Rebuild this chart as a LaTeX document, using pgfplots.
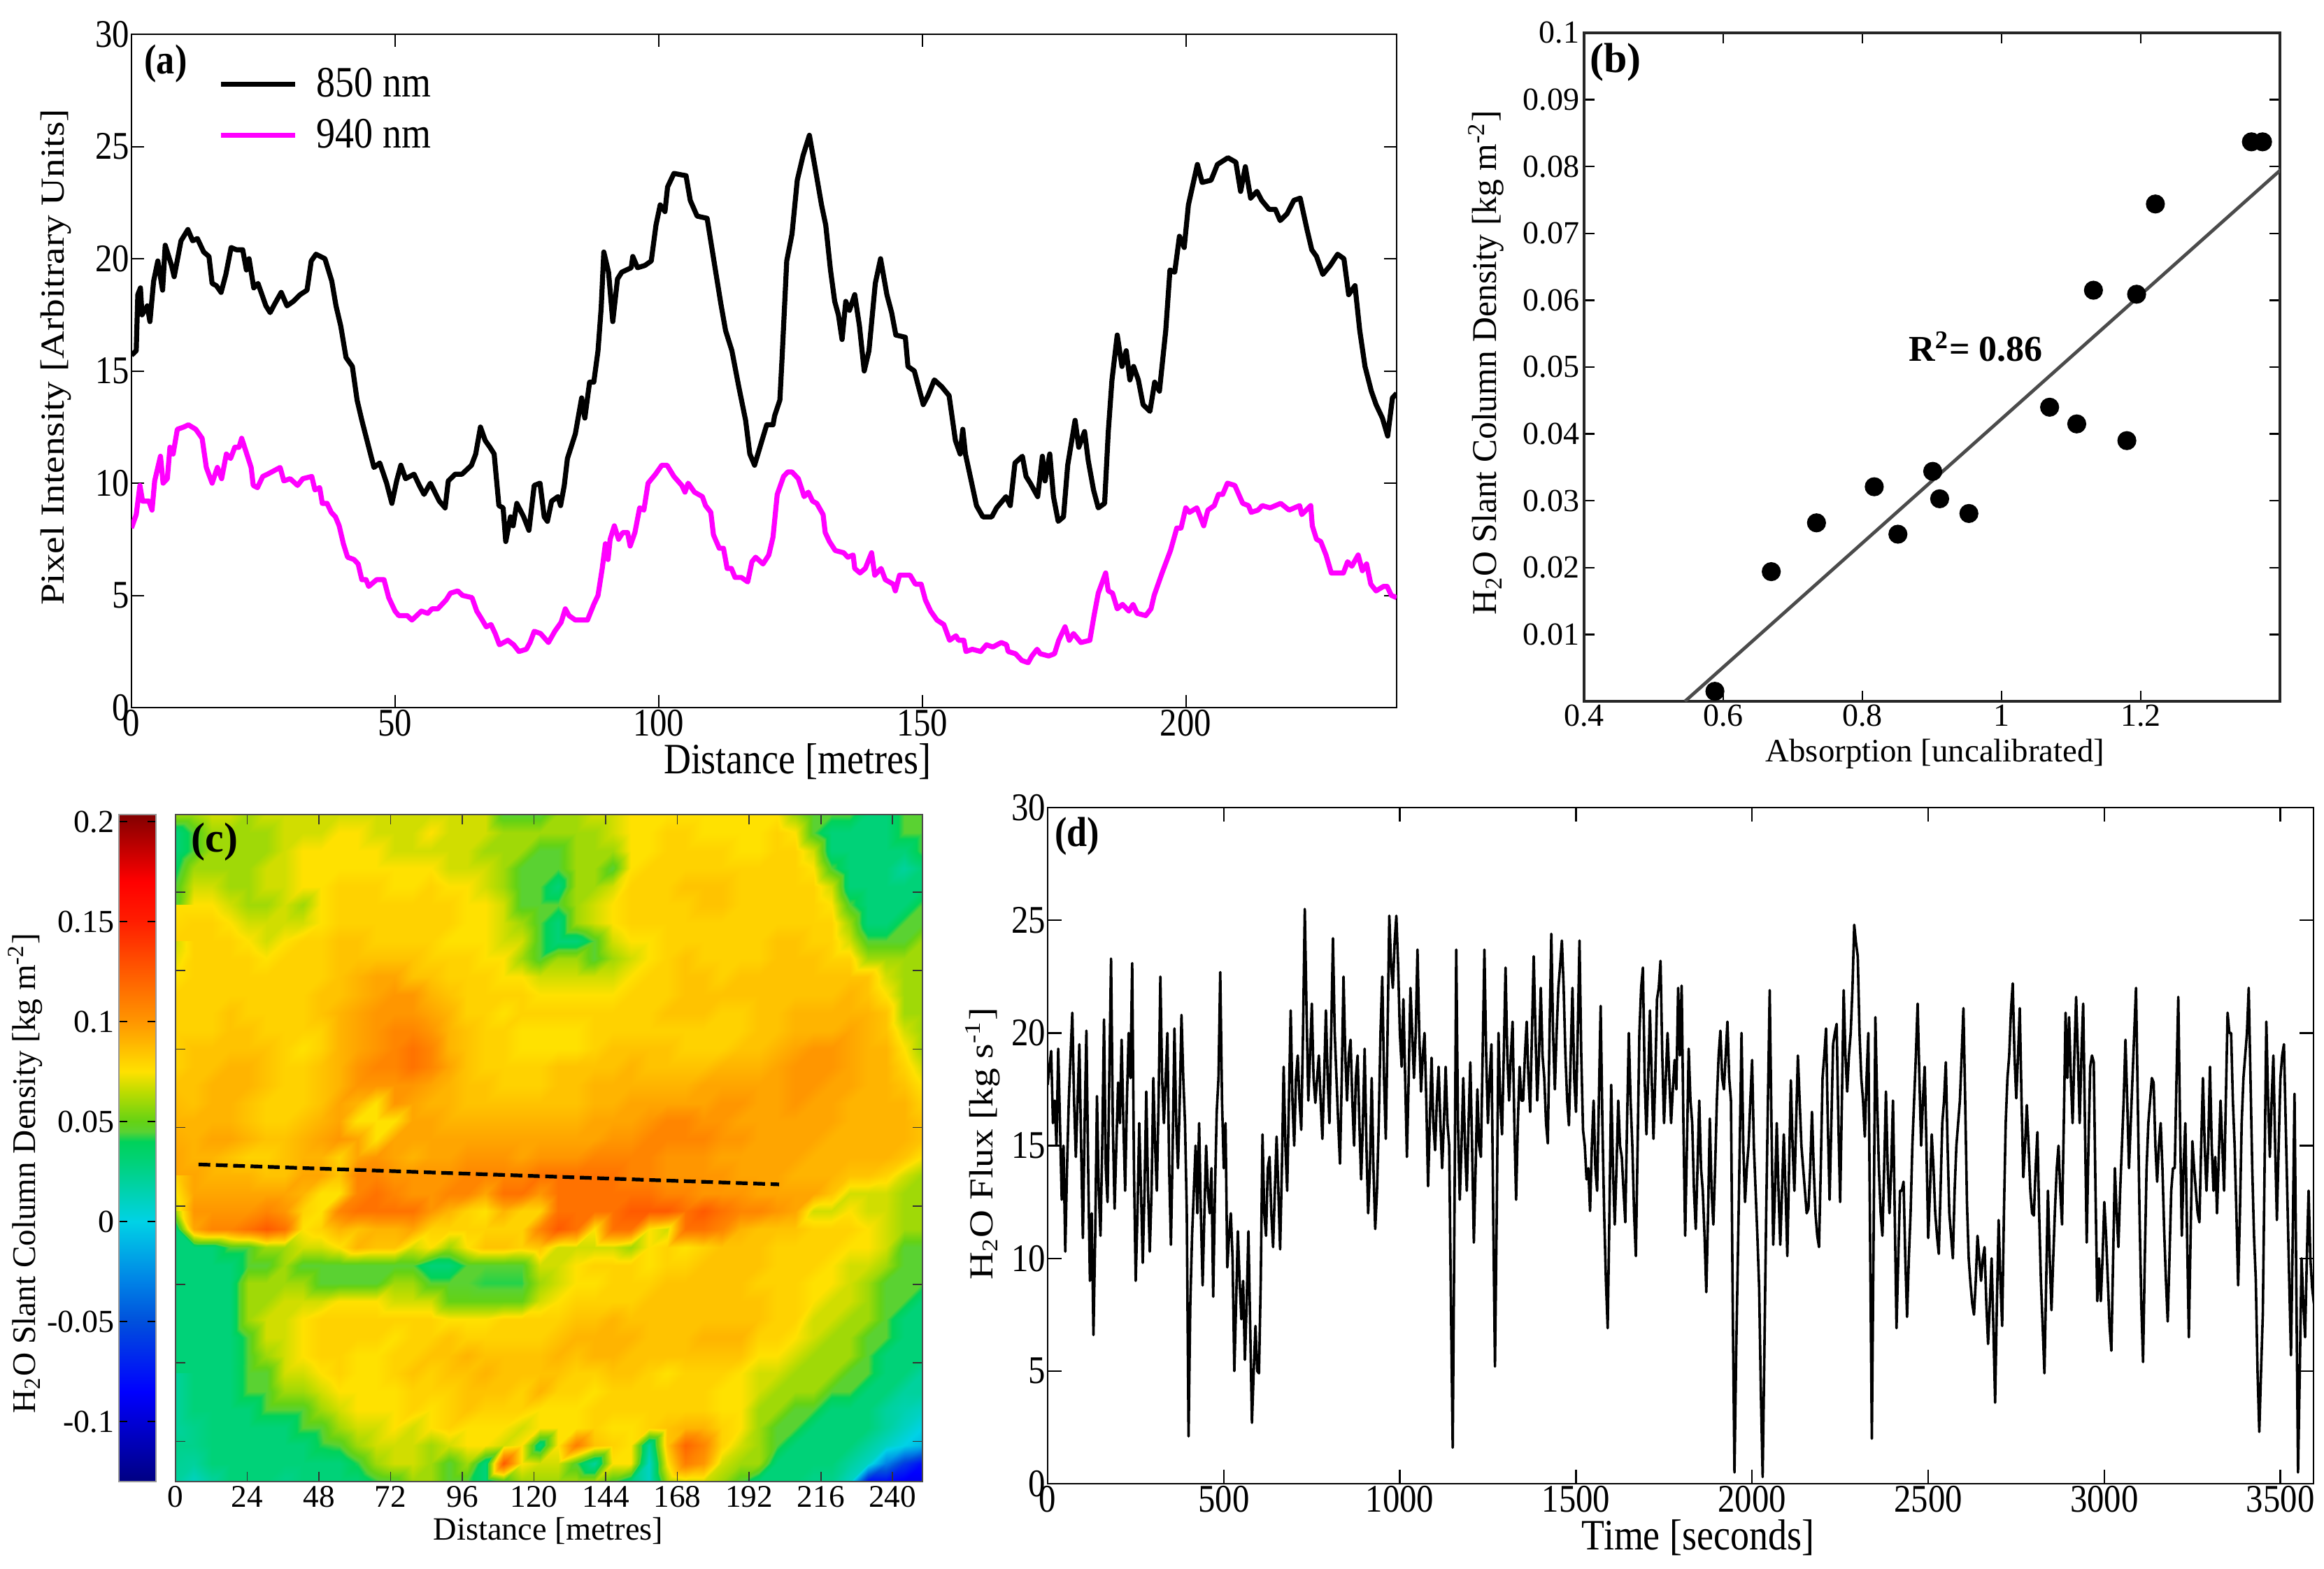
\documentclass[border=0pt]{standalone}
\usepackage{pgfplots}
\pgfplotsset{compat=1.18}
\usepackage{fontspec}
\setmainfont{Liberation Serif}
\newfontfamily\narrow[FakeStretch=0.87]{Liberation Serif}
\newfontfamily\wide[FakeStretch=1.15]{Liberation Serif}
\pgfplotsset{
  colormap={waterjet}{rgb255(0pt)=(0,0,130); rgb255(45pt)=(0,0,255); rgb255(80pt)=(0,80,220); rgb255(100pt)=(0,130,230); rgb255(130pt)=(0,210,230); rgb255(160pt)=(0,210,120); rgb255(170pt)=(0,210,90); rgb255(175pt)=(90,210,50); rgb255(180pt)=(100,210,20); rgb255(195pt)=(190,220,0); rgb255(205pt)=(255,225,0); rgb255(230pt)=(255,150,0); rgb255(280pt)=(255,30,0); rgb255(300pt)=(255,0,0); rgb255(333.5pt)=(130,0,0)},
  panel/.style={scale only axis, anchor=south west, tick align=inside, xtick pos=both, ytick pos=both, axis line style={black}, tick style={black}},
}
\begin{document}
\begin{tikzpicture}
\path[use as bounding box] (0pt,0pt) rectangle (830.75pt,-560.75pt);

% ---------- (a)
\begin{axis}[panel, at={(47pt,-253pt)}, width=452.25pt, height=240.75pt,
  xmin=0, xmax=240, ymin=0, ymax=30,
  axis line style={line width=0.5pt}, tick style={line width=0.5pt}, major tick length=4.5pt,
  xtick={0,50,100,150,200}, xticklabels={0,50,100,150,200},
  ytick={0,5,10,15,20,25,30}, yticklabels={0,5,10,15,20,25,30},
  xticklabel style={font=\narrow\fontsize{14}{14}\selectfont, inner sep=0.5pt},
  yticklabel style={font=\narrow\fontsize{14}{14}\selectfont, inner sep=0.5pt},
  legend style={at={(0.0682,0.9595)}, anchor=north west, draw=none, fill=none, inner sep=0pt, row sep=2.5pt, font=\narrow\fontsize{15.5}{16}\selectfont, /tikz/every odd column/.append style={column sep=4.9pt}},
  legend cell align=left,
  legend image code/.code={\draw[#1] (0pt,0pt)--(26.5pt,0pt);},
]
\addplot[black, line width=1.8pt, line join=round] coordinates {
(0,15.7)(0.9,15.9)(1.2,18.4)(1.7,18.7)(2,17.5)(3,17.9)(3.5,17.2)(4.2,19)(5,19.9)(5.9,18.6)(6.4,20.6)(7.6,19.7)(8.1,19.2)(9.4,20.8)(10.7,21.3)(11.6,20.8)(12.5,20.9)(13.7,20.3)(14.7,20.1)(15.3,18.9)(16.1,18.8)(17,18.5)(17.9,19.3)(18.9,20.5)(19.9,20.4)(21.1,20.4)(21.8,19.5)(22.3,20)(23.2,18.7)(24,18.9)(25.5,17.9)(26.3,17.6)(27.2,18)(28.4,18.5)(29.5,17.9)(30.7,18.1)(32,18.4)(33.3,18.6)(34.1,19.9)(35,20.2)(36.7,20)(38,19)(38.8,17.9)(39.7,17)(40.7,15.6)(41.9,15.2)(42.8,13.7)(43.7,12.8)(44.9,11.7)(46,10.7)(47.1,10.9)(48.4,10)(49.4,9.1)(50.3,10.1)(51.1,10.8)(52,10.2)(53.6,10.4)(54.6,9.9)(55.5,9.5)(56.7,10)(58.4,9.2)(59.5,8.9)(60.1,10.1)(61.4,10.4)(62.7,10.4)(64.5,10.8)(65.3,11.3)(66.2,12.5)(67.1,11.9)(68,11.6)(68.8,11.3)(69.7,9)(70.5,8.9)(71,7.4)(71.9,8.5)(72.4,8.1)(73.1,9.1)(74.4,8.5)(75.4,7.9)(76.4,9.9)(77.5,10)(78.3,8.5)(78.9,8.3)(79.7,9.2)(80.9,9.4)(81.4,9)(82.1,9.9)(82.7,11.1)(84.2,12.2)(85.4,13.8)(86,12.9)(86.9,14.5)(87.7,14.5)(88.5,15.9)(89.1,17.8)(89.6,20.3)(90.5,19.4)(91.3,17.2)(92.2,19.1)(93,19.4)(94.8,19.6)(95.1,20.1)(96,19.6)(97.4,19.7)(98.6,19.9)(99.5,21.5)(100.3,22.4)(101.2,22.1)(101.7,23.2)(102.9,23.8)(105.2,23.7)(106,22.6)(107.3,21.9)(109.2,21.8)(110.7,19.6)(111.8,18)(112.7,16.8)(113.9,15.9)(115.2,14.3)(116.5,12.8)(117.3,11.3)(118.2,10.8)(119.6,11.9)(120.5,12.6)(121.7,12.6)(122,13)(123,13.7)(123.4,15.5)(124.3,19.9)(125.3,21.1)(126.3,23.5)(127.4,24.6)(128.6,25.5)(129.8,23.9)(130.9,22.4)(131.7,21.5)(132.6,19.5)(133.4,18.1)(134.1,17.5)(134.8,16.4)(135.5,18.1)(136.2,17.7)(137.2,18.4)(138.1,17)(139,15)(139.9,15.9)(141.1,18.9)(142.1,20)(143.3,18.4)(144.2,17.6)(145,16.6)(146.8,16.5)(147.3,15.2)(148.5,15)(150.2,13.5)(151.1,13.9)(152.3,14.6)(153.7,14.3)(155.1,13.9)(156.3,11.9)(157.2,11.3)(157.7,12.4)(158.2,11.3)(159.3,10.1)(160.3,9)(161.5,8.5)(163.2,8.5)(164.1,8.9)(165.9,9.4)(166.7,9)(167.6,10.9)(169,11.2)(169.7,10.3)(170.5,10)(171.9,9.4)(172.8,11.2)(173.3,10.1)(174.2,11.3)(174.9,9.4)(175.8,8.3)(176.8,8.5)(177.6,10.8)(179,12.8)(179.7,11.6)(180.8,12.3)(181.5,11)(182.5,9.7)(183.4,8.9)(184.6,9.1)(185.3,12.3)(186,14.6)(187,16.6)(187.9,15.2)(188.7,15.9)(189.4,14.6)(190.1,15.2)(191,14.6)(191.9,13.5)(193.2,13.2)(194.1,14.5)(195,14.1)(196.2,16.8)(197,19.5)(197.9,19.4)(198.8,21)(199.7,20.5)(200.5,22.4)(202.2,24.2)(203.1,23.4)(204.8,23.5)(206,24.2)(208,24.5)(209.5,24.3)(210.4,23)(211.3,24.1)(212.3,22.7)(213.5,23)(214.4,22.6)(215.8,22.2)(217,22.2)(217.9,21.7)(219.2,22)(220.5,22.6)(221.7,22.7)(223,21.3)(223.9,20.4)(224.8,20.1)(226,19.3)(227.4,19.7)(228.8,20.2)(230,20)(230.9,18.4)(232.1,18.8)(233,16.8)(234,15.2)(235.2,14.1)(236.1,13.5)(237.3,12.9)(238.3,12.1)(239.2,13.8)(240,14)
};
\addlegendentry{850 nm}
\addplot[color={rgb,255:red,255;green,0;blue,255}, line width=1.8pt, line join=round] coordinates {
(0,8)(0.9,8.6)(1.6,9.9)(2.1,9.2)(3.3,9.2)(3.9,8.8)(4.4,10.1)(5.5,11.2)(6,10)(6.8,10.2)(7.3,11.6)(7.9,11.3)(8.7,12.4)(9.9,12.5)(10.8,12.6)(12.2,12.4)(13.4,12)(14.2,10.7)(15.3,10)(16.3,10.7)(17.1,10.2)(18,11.3)(18.8,11.1)(19.6,11.6)(20.4,11.6)(20.9,12)(21.6,11.5)(22.7,10.7)(23.1,9.9)(23.9,9.8)(24.9,10.3)(25.8,10.4)(26.6,10.5)(28.2,10.7)(28.9,10.1)(30.1,10.2)(31.5,9.9)(32.5,10.2)(34.2,10.3)(34.8,9.7)(35.7,9.8)(36.2,9.1)(37.1,9.1)(37.9,8.7)(38.7,8.5)(39.4,8.1)(40.2,7.3)(41,6.7)(42.2,6.6)(43,6.4)(43.7,5.7)(44.5,5.7)(45,5.4)(46.5,5.7)(47.9,5.7)(48.8,4.9)(50,4.3)(50.7,4.1)(52.3,4.1)(53.2,3.9)(55,4.3)(56.2,4.2)(57,4.4)(58.1,4.4)(59.7,4.8)(60.5,5.1)(61.9,5.2)(62.8,5)(64.6,4.9)(65.5,4.3)(66.3,4)(67.3,3.6)(68.2,3.7)(69,3.3)(69.8,2.8)(71.4,3)(72.5,2.8)(73.5,2.5)(74.9,2.6)(75.6,2.9)(76.4,3.4)(77.6,3.3)(79.1,2.9)(80.3,3.4)(81.5,3.8)(82.3,4.4)(83,4.1)(84.2,3.9)(86.5,3.9)(87.7,4.6)(88.5,5)(89.3,6.2)(89.9,7.3)(90.4,6.6)(90.8,7.5)(91.6,8.1)(92.4,7.5)(93.2,7.8)(94.1,7.8)(94.6,7.2)(95.5,7.8)(96.4,8.9)(97.2,8.8)(98,10)(99.4,10.4)(100.6,10.8)(101.6,10.8)(102.9,10.3)(104.4,9.9)(105,9.6)(105.6,10)(106.8,9.6)(108.3,9.4)(108.9,9)(109.9,8.7)(110.4,7.7)(111.5,7.1)(112.3,7.1)(113,6.2)(113.8,6.2)(114.5,5.8)(115.7,5.8)(116.9,5.6)(117.7,6.5)(118.4,6.7)(119.8,6.4)(120.9,6.8)(121.7,7.6)(122.5,9.5)(123.7,10.3)(124.5,10.5)(125.3,10.5)(126.5,10.2)(127.2,9.7)(127.6,9.4)(128.4,9.6)(129.2,9.2)(130,9.1)(131.2,8.6)(131.6,7.8)(132.4,7.4)(133.5,7)(135.1,6.9)(135.9,6.7)(136.9,6.8)(137.2,6.2)(138.2,6)(139.2,6.2)(140.4,6.9)(141,5.9)(142.2,6.2)(143,5.7)(144.5,5.5)(144.9,5.2)(145.7,5.9)(146.9,5.9)(147.7,5.9)(148.7,5.5)(149.8,5.5)(150.6,4.8)(151.6,4.3)(152.8,3.9)(154.1,3.7)(155.2,3)(156.4,3.2)(156.9,3)(157.9,3)(158.3,2.5)(159.5,2.6)(161.1,2.5)(162.2,2.8)(163.4,2.7)(165,2.9)(166,2.8)(166.3,2.5)(167.7,2.4)(168.9,2.1)(170.1,2)(170.8,2.3)(171.8,2.6)(172.4,2.4)(174,2.3)(175.1,2.4)(175.9,3)(177.1,3.6)(177.9,3)(178.7,3.3)(180.1,2.9)(181.8,3)(182.6,4.1)(183.4,5.1)(184.8,6)(185.3,5.2)(186.1,5.1)(187,4.4)(188,4.6)(189.2,4.3)(190,4.6)(190.8,4.2)(192.4,4.1)(193.4,4.4)(194,5)(195.5,6)(197.1,7)(198.3,8)(199.1,8)(200,8.9)(200.7,8.7)(202.1,8.9)(203.4,8.1)(204.2,8.8)(205.4,9)(206.2,9.5)(207,9.5)(207.9,10)(209.3,9.9)(210.8,9.1)(211.9,9)(212.4,8.7)(213.7,8.8)(214.5,9)(216,8.9)(218,9.1)(219.6,8.8)(221.6,9)(222,8.6)(223.7,9)(224,8.1)(224.8,7.5)(225.6,7.4)(226.6,6.8)(227.6,6)(228.4,6)(229.9,6)(230.7,6.5)(231.5,6.3)(232.7,6.8)(233.5,6.1)(234.3,6.4)(235.1,5.5)(236.1,5.2)(237.5,5.4)(238.2,5.4)(239,5)(240,4.9)
};
\addlegendentry{940 nm}
\end{axis}

% ---------- (b)
\begin{axis}[panel, at={(566.25pt,-250.75pt)}, width=248.75pt, height=239pt,
  xmin=0.4, xmax=1.4, ymin=0, ymax=0.1,
  axis line style={line width=0.8pt, black!85}, tick style={line width=0.6pt}, major tick length=3.7pt,
  xtick={0.4,0.6,0.8,1,1.2}, xticklabels={0.4,0.6,0.8,1,1.2},
  ytick={0.01,0.02,0.03,0.04,0.05,0.06,0.07,0.08,0.09,0.1},
  yticklabels={0.01,0.02,0.03,0.04,0.05,0.06,0.07,0.08,0.09,0.1},
  xticklabel style={font=\fontsize{11.5}{12}\selectfont, inner sep=1pt},
  yticklabel style={font=\fontsize{11.5}{12}\selectfont, inner sep=1.5pt},
]
\addplot[color={rgb,255:red,75;green,75;blue,75}, line width=1.2pt] coordinates {(0.545,0)(1.402,0.0796)};
\addplot[only marks, mark=*, mark size=3.2pt, mark options={fill=black, draw=black}] coordinates {
(0.588,0.0015)(0.669,0.0194)(0.734,0.0267)(0.817,0.0321)(0.851,0.025)(0.901,0.0344)(0.911,0.0303)(0.953,0.0281)(1.069,0.044)(1.108,0.0415)(1.132,0.0615)(1.18,0.039)(1.194,0.0609)(1.221,0.0744)(1.359,0.0837)(1.375,0.0837)};
\end{axis}

% ---------- (c) colour bar
\begin{axis}[panel, at={(42.5pt,-529.75pt)}, width=13.25pt, height=238.5pt,
  xmin=0, xmax=1, ymin=-0.13, ymax=0.2035, xtick=\empty,
  axis line style={line width=0.3pt, black!40}, axis on top,
  tick style={black, line width=0.4pt}, major tick length=3pt,
  ytick={-0.1,-0.05,0,0.05,0.1,0.15,0.2}, yticklabels={-0.1,-0.05,0,0.05,0.1,0.15,0.2},
  yticklabel style={font=\fontsize{11.5}{12}\selectfont, inner sep=1.5pt},
  colormap name=waterjet, point meta min=-0.13, point meta max=0.2035,
]
\addplot[surf, shader=interp, mesh/cols=2, point meta=y] coordinates {(0,-0.13)(1,-0.13)(0,0.2035)(1,0.2035)};
\end{axis}

% ---------- (c)
\begin{axis}[panel, at={(62.75pt,-529.75pt)}, width=267pt, height=238.5pt,
  xmin=0, xmax=250, ymin=0, ymax=204, axis on top,
  axis line style={line width=0.5pt, black!70}, tick style={line width=0.4pt, black!80}, major tick length=3.5pt,
  xtick={0,24,48,72,96,120,144,168,192,216,240}, xticklabels={0,24,48,72,96,120,144,168,192,216,240},
  ytick={12.3,36.3,60.3,84.3,108.3,132.3,156.3,180.3}, yticklabels={},
  xticklabel style={font=\fontsize{11.3}{12}\selectfont, inner sep=1.5pt},
  colormap name=waterjet, point meta min=-0.13, point meta max=0.2035,
]
\addplot[surf, shader=interp, mesh/cols=42, point meta=explicit] table[x expr={mod(\coordindex,42)*250/41}, y expr={204-floor(\coordindex/42)*204/37}, meta expr=\thisrowno{0}/100, header=false, row sep=\\]{%
6\\6\\6.8\\6.8\\6\\6.8\\6.8\\6.8\\6.8\\6.8\\6.8\\6.8\\6.8\\6.8\\6.8\\6.8\\6.8\\6.8\\4.5\\4.5\\4.5\\6\\6\\6.8\\6.8\\7.5\\7.5\\7.5\\7.5\\7.5\\7.5\\7.5\\7.5\\7.5\\6\\4.5\\4.5\\4.5\\3\\3\\4.5\\4.5\\%
3\\4.5\\6\\6\\6\\6\\6.8\\6.8\\6.8\\7.5\\7.5\\6.8\\6.8\\6.8\\7.5\\6.8\\6.8\\6.8\\6\\6\\6\\6\\6\\6\\6.8\\7.5\\7.5\\8\\8\\7.5\\7.5\\7.5\\7.5\\8\\7.5\\4.5\\3\\3\\3\\3\\4.5\\4.5\\%
3\\4.5\\6\\6\\6\\6\\6.8\\7.5\\7.5\\7.5\\7.5\\7.5\\6.8\\6.8\\6.8\\6.8\\6.8\\6\\6\\6\\4.5\\4.5\\6\\6\\6\\7.5\\7.5\\8\\8\\8\\8\\7.5\\7.5\\8\\8\\6.8\\3\\3\\3\\3\\3\\4.5\\%
3\\6\\6\\6\\6\\6.8\\6.8\\7.5\\7.5\\7.5\\7.5\\7.5\\7.5\\7.5\\7.5\\6.8\\6.8\\6.8\\6\\4.5\\4.5\\4.5\\6\\6\\4.5\\7.5\\8\\8\\8\\8\\8\\8\\8\\8\\8\\7.5\\4.5\\3\\3\\3\\2\\3\\%
4.5\\6.8\\6.8\\6\\6\\6.8\\6.8\\7.5\\7.5\\8\\8\\8\\7.5\\7.5\\8\\7.5\\7.5\\6.8\\6\\4.5\\4.5\\3\\6\\6\\6.8\\8\\8\\8\\8.5\\8.5\\8.5\\8\\8\\8\\8\\8\\6.8\\3\\3\\3\\3\\3\\%
4.5\\7.5\\7.5\\6.8\\6\\6\\6.8\\6\\7.5\\8\\8\\8\\8\\8\\8\\8\\7.5\\7.5\\6.8\\4.5\\4.5\\4.5\\6\\6.8\\7.5\\8\\8\\8\\8\\8.5\\8.5\\8\\8\\8\\8\\8\\7.5\\4.5\\3\\3\\3\\4.5\\%
7.5\\8\\8\\7.5\\6.8\\6.8\\6.8\\6.8\\7.5\\8\\8\\8\\8\\8\\8\\8\\7.5\\7.5\\6.8\\6\\4.5\\3\\6\\6.8\\7.5\\8\\8\\8\\8\\8\\8\\8\\8\\8\\8\\8\\8\\6\\3\\3\\4.5\\4.5\\%
8\\8\\8\\8\\7.5\\6.8\\7.5\\8\\8\\8.5\\8.5\\8\\8\\8\\8\\7.5\\7.5\\7.5\\6.8\\6.8\\4.5\\3\\3\\4.5\\6.8\\7.5\\7.5\\8\\8\\8\\8\\8\\8\\8.5\\8.5\\8\\8\\6.8\\4.5\\4.5\\4.5\\6\\%
6.8\\8\\8\\8\\8\\7.5\\8\\8\\8\\8.5\\8.5\\8.5\\8.5\\8.5\\8\\8\\8\\7.5\\7.5\\6\\4.5\\6\\6\\4.5\\6\\6.8\\7.5\\8\\8.5\\8\\8\\8\\8\\8.5\\8.5\\8.5\\8\\8\\6\\6\\6\\6\\%
7.5\\8\\8\\8\\8\\8\\8\\8\\8\\8.5\\9\\9.5\\9.5\\8.5\\8.5\\8\\8\\8\\7.5\\7.5\\6.8\\6.8\\6.8\\6.8\\6.8\\7.5\\8\\8\\8.5\\8.5\\8\\8.5\\8.5\\8.5\\8.5\\8.5\\8.5\\8.5\\8.5\\6.8\\6\\6\\%
8\\8\\8\\8\\8\\8\\8\\8\\8.5\\8.5\\9\\9.5\\10\\10\\9\\8.5\\8\\8\\8\\8\\7.5\\7.5\\7.5\\7.5\\7.5\\8\\8\\8\\8.5\\8.5\\8.5\\8.5\\8.5\\8.5\\8.5\\8.5\\8.5\\9\\8.5\\7.5\\6\\6\\%
8\\8\\8\\8.5\\8\\8\\8\\8\\8.5\\9\\9.5\\10\\10\\10\\9.5\\9\\8\\8\\7.5\\8\\8\\8\\8\\8\\8\\8\\8\\8.5\\8.5\\8.5\\8\\8\\8.5\\8.5\\9\\9\\9\\9\\9\\8.5\\6\\6\\%
8\\8\\8\\8.5\\8.5\\8\\8\\8\\8\\9\\9.5\\10\\10.7\\10.7\\10\\9\\8.5\\8\\8\\7.5\\7.5\\7.5\\7.5\\8\\8\\8\\8\\8\\8\\8\\8\\8\\8.5\\8.5\\9\\9\\9\\9.5\\9\\8.5\\6.8\\6\\%
8\\8.5\\8.5\\8.5\\8.5\\8.5\\8\\7.5\\8\\9\\9.5\\10\\10.7\\11.5\\10.7\\9\\8.5\\8\\8\\7.5\\7.5\\7.5\\7.5\\8\\8.5\\8.5\\8.5\\8.5\\8\\8\\8\\8.5\\8.5\\9\\9.5\\10\\10\\9.5\\9\\9\\7.5\\6\\%
8\\8.5\\8.5\\9\\9\\8.5\\8\\8\\8.5\\9\\10\\10.7\\10.7\\11.5\\10.7\\9.5\\8.5\\8\\8\\8\\8\\8.5\\8.5\\8.5\\8.5\\9\\8.5\\8.5\\8.5\\8.5\\9\\9\\9\\9.5\\10\\10\\10\\9.5\\9\\9\\8\\6.8\\%
8.5\\8.5\\9\\9\\9\\8.5\\8\\8\\8.5\\9\\10\\10\\10\\10\\9.5\\9\\8.5\\8.5\\8\\8\\8\\8.5\\8.5\\9\\9\\9\\9\\9\\9\\9.5\\9.5\\9.5\\9.5\\9.5\\10\\10\\9.5\\9.5\\9\\9\\8.5\\7.5\\%
8.5\\8.5\\9\\9\\8.5\\8\\8\\8\\8.5\\9.5\\9\\7.5\\10\\9.5\\9\\9\\8.5\\8.5\\8.5\\8.5\\8.5\\8.5\\8.5\\9\\9\\9.5\\9.5\\9.5\\9.5\\9.5\\10\\10\\9.5\\9.5\\10\\9.5\\9.5\\9\\9\\9\\9\\8\\%
9\\9\\9\\9\\8.5\\8\\8\\8.5\\9\\9.5\\7.5\\7.5\\7.5\\9.5\\9.5\\9\\9\\9\\9\\9\\9\\9\\9\\9.5\\9.5\\9.5\\10\\10.7\\10.7\\10\\10\\9.5\\9.5\\9.5\\9.5\\9.5\\9.5\\9\\9\\9\\9\\8.5\\%
9\\9\\9.5\\9.5\\9\\8.5\\8.5\\9\\9.5\\10\\9.5\\7.5\\9.5\\9.5\\9.5\\9.5\\9.5\\9.5\\9.5\\9.5\\9.5\\9.5\\9.5\\9.5\\10\\10\\10.7\\10.7\\10.7\\10.7\\10\\10\\9.5\\9.5\\9.5\\9.5\\9\\9\\9\\9\\9\\8.5\\%
9.5\\9\\9\\8.5\\8\\8\\8.5\\9\\9\\8\\9.5\\10\\9.5\\9\\9.5\\9.5\\10\\10\\10\\9.5\\10\\10\\10\\10.7\\10.7\\10.7\\10.7\\10\\10\\10\\9.5\\9.5\\9.5\\9.5\\9.5\\9\\9\\9\\9\\9\\8.5\\7.5\\%
9.5\\9.5\\9\\9\\9\\8.5\\8.5\\9.5\\9.5\\8.5\\10.7\\10.7\\10\\10\\10\\10\\10.7\\10.7\\10.7\\10.7\\11.5\\11.5\\11.5\\11.5\\11.5\\10.7\\10.7\\10\\10\\10\\10\\9.5\\9.5\\9.5\\9\\9\\9\\8.5\\8.5\\8\\6.8\\6\\%
8\\9.5\\9.5\\9.5\\9.5\\9.5\\9.5\\9\\7.5\\7.5\\10.7\\11.5\\10.7\\10\\10\\10.7\\10.7\\9.5\\11.5\\11.5\\10\\11.5\\11.5\\11.5\\11.5\\11.5\\11.5\\10.7\\10.7\\10\\10\\10\\9.5\\9.5\\9.5\\9.5\\8.5\\6.8\\6.8\\6.8\\6\\6\\%
6.8\\10\\10\\10\\10\\10.7\\10\\8\\7.5\\10.7\\11.5\\11.5\\11.5\\11.5\\10\\9\\8\\7.5\\9\\8\\8\\11.5\\11.5\\11.5\\11.5\\12.5\\12.5\\12.5\\11.5\\12.5\\11.5\\10.7\\10.7\\10\\9.5\\6.8\\6.8\\7.5\\6.8\\6.8\\6\\6\\%
6\\9.5\\10.7\\10.7\\11.5\\12.5\\11.5\\7.5\\8\\9\\8.5\\9\\9\\9.5\\8\\8\\8\\8\\8\\8\\10.7\\12.5\\11.5\\7.5\\11.5\\11.5\\7.5\\6.8\\11.5\\11.5\\10.7\\9\\8.5\\8.5\\8.5\\8\\8\\8\\7.5\\6.8\\6\\6\\%
3\\3\\3\\4.5\\4.5\\6\\6\\6.8\\6.8\\7.5\\9\\8.5\\8.5\\6.8\\7.5\\6\\7.5\\8.5\\8.5\\8\\8.5\\6.8\\6.8\\6.8\\6.8\\6\\7.5\\8\\7.5\\8\\8.5\\8.5\\8.5\\8\\8\\8\\8\\7.5\\7.5\\6.8\\4.5\\4.5\\%
3\\3\\3\\3\\4.5\\4.5\\6\\4.5\\4.5\\4.5\\4.5\\4.5\\4.5\\4.5\\3\\3\\4.5\\4.5\\4.5\\4.5\\6.8\\6.8\\7.5\\8\\8\\8\\7.5\\8\\8\\8.5\\8.5\\8.5\\8.5\\8\\8\\8\\7.5\\6.8\\6.8\\6\\4.5\\4.5\\%
3\\3\\3\\3\\6\\6\\6\\6\\4.5\\4.5\\4.5\\4.5\\6\\6\\4.5\\4.5\\4.5\\4.2\\4.2\\4.2\\6\\6.8\\7.5\\7.5\\8\\8\\8\\8.5\\8.5\\8.5\\8.5\\8.5\\8\\8\\8\\7.5\\7.5\\6.8\\6\\4.5\\4.5\\4.5\\%
3\\3\\3\\3\\6\\6\\6.8\\6.8\\6.8\\7.5\\7.5\\7.5\\6.8\\6.8\\6.8\\5\\5\\5\\5\\5\\6.8\\7.5\\8\\8\\8\\8\\8.5\\8.5\\8.5\\8.5\\8.5\\8.5\\8.5\\8\\8\\7.5\\6.8\\6.8\\6\\4.5\\4.5\\3\\%
3\\3\\3\\3\\6\\6.8\\6.8\\7.5\\8\\8\\8\\8\\8\\8\\8\\7.5\\7.5\\7.5\\8\\8\\8\\8\\8.5\\8.5\\9\\8.5\\8.5\\8.5\\8.5\\8.5\\8.5\\8.5\\8.5\\8\\8\\6.8\\6.8\\6\\6\\4.5\\3\\3\\%
3\\3\\3\\3\\4.5\\6.8\\6.8\\7.5\\8\\8\\8\\8\\7.5\\8\\8\\8.5\\8\\8\\8\\8\\8\\8.5\\9\\9\\9\\9\\8.5\\8.5\\8.5\\9\\9\\9\\8\\8\\7.5\\6.8\\6\\6\\4.5\\4.5\\3\\3\\%
3\\3\\3\\3\\4.5\\6\\6.8\\7.5\\8\\8\\7.5\\7.5\\8\\8\\8.5\\8.5\\9\\8.5\\8.5\\8.5\\8.5\\9\\8.5\\9\\9\\8.5\\8.5\\8.5\\8.5\\8.5\\8.5\\8.5\\7.5\\7.5\\6.8\\6\\6\\6\\4.5\\3\\3\\3\\%
3\\3\\3\\3\\4.5\\4.5\\6.8\\6.8\\7.5\\8\\7.5\\7.5\\8\\8.5\\8\\8.5\\8.5\\9\\8.5\\8.5\\8.5\\8.5\\8\\8\\8.5\\8.5\\8\\7.5\\8\\8\\8\\7.5\\6.8\\6.8\\6\\6\\6\\4.5\\4.5\\3\\3\\2\\%
2\\3\\3\\3\\4.5\\4.5\\6\\6\\6.8\\7.5\\7.5\\7.5\\7.5\\8\\8\\8\\8.5\\8.5\\8.5\\8\\9\\8\\8\\7.5\\8\\8\\8\\8\\8\\8\\7.5\\7.5\\6.8\\6\\6\\6\\4.5\\4.5\\3\\3\\2\\2\\%
2\\3\\3\\3\\3\\4.5\\4.5\\4.5\\6\\6.8\\7.5\\7.5\\7.5\\8\\7.5\\8\\8.5\\8\\8\\8\\7.5\\7.5\\7.5\\8\\8\\8\\8\\8\\8\\8\\7.5\\7.5\\6\\6\\4.5\\4.5\\3\\3\\3\\2\\1.5\\1\\%
2\\2.5\\3\\3\\3\\3\\3\\4.5\\4.5\\6\\6.8\\6.8\\7.5\\6.8\\7.5\\8\\7.5\\7.5\\7.5\\6.8\\7.5\\7.5\\7.5\\8\\7.5\\7.5\\8\\8.5\\9\\9\\8\\7.5\\6\\4.5\\4.5\\3\\3\\3\\3\\2\\1\\0\\%
2\\2.5\\3\\3\\3\\3\\3\\3\\4.2\\4.5\\6\\6.8\\6.8\\6.8\\6\\6.8\\7.5\\7.5\\6.8\\7.5\\3\\7.5\\11\\8.5\\8\\7.5\\2\\8.5\\12\\10.7\\8\\6.8\\6\\4.5\\3\\3\\3\\3\\2\\1\\0\\-1\\%
2.5\\2\\3\\3\\3\\3\\3\\3\\3\\3\\4.2\\6\\6.8\\6.8\\6\\4.5\\6\\3\\12.5\\7.5\\6.8\\6.8\\4.5\\2\\7.5\\7.5\\1\\7.5\\11\\10\\6.8\\6\\6\\3\\3\\3\\3\\2\\1\\-3\\-6\\-8\\%
2\\1\\2\\3\\3\\3\\2.5\\3\\3\\3\\3\\4.2\\4.5\\6\\6\\4.5\\4.5\\3\\4.5\\6\\6\\6\\6\\6\\4.5\\3\\1\\6\\6.8\\6.8\\6\\4.5\\3\\3\\3\\2.5\\2.5\\1\\-8\\-8\\-9\\-9\\%
};
\addplot[black, line width=1.3pt, dash pattern=on 4.2pt off 2pt] coordinates {(7.7,97)(202,90.9)};
\end{axis}

% ---------- (d)
\begin{axis}[panel, at={(374.5pt,-530.5pt)}, width=452.5pt, height=241.75pt,
  xmin=0, xmax=3594, ymin=0, ymax=30,
  axis line style={line width=0.7pt}, tick style={line width=0.6pt}, major tick length=5pt,
  xtick={0,500,1000,1500,2000,2500,3000,3500}, xticklabels={0,500,1000,1500,2000,2500,3000,3500},
  ytick={0,5,10,15,20,25,30}, yticklabels={0,5,10,15,20,25,30},
  xticklabel style={font=\narrow\fontsize{14}{14}\selectfont, inner sep=0.5pt},
  yticklabel style={font=\narrow\fontsize{14}{14}\selectfont, inner sep=0.5pt},
]
\addplot[black, line width=0.9pt, line join=round] table[x expr=\coordindex*5, y index=0, header=false, row sep=\\]{%
17.7\\18.5\\19.2\\16\\17\\15\\19.3\\16\\12.6\\15\\10.3\\14\\17\\19\\20.9\\17\\14.5\\17\\19.5\\15\\%
10.9\\16\\20.1\\14\\9\\12\\6.6\\11\\17.2\\13\\11\\15\\20.6\\14\\12.5\\18\\23.3\\16\\12.2\\15\\%
17.8\\16\\19.7\\16\\13\\17\\20\\18\\23.1\\14\\9\\12\\16\\13\\9.8\\13\\17.4\\13\\10.3\\13\\%
18\\15\\13\\17\\22.5\\18\\16\\18\\20\\14\\10.6\\15\\20.2\\16\\14\\17\\20.8\\18\\16\\12\\%
2.1\\8\\11\\13\\15\\12\\16\\12\\8.8\\12\\15\\13\\12\\14\\8.3\\13\\16.5\\18\\22.7\\17\\%
14\\16\\9.6\\11\\12\\10\\5\\8\\11.2\\9\\7.3\\9\\5.5\\8\\11.2\\7\\2.7\\5\\7\\5\\%
4.9\\9\\15.5\\12\\11\\14\\14.5\\12\\10.5\\13\\15.4\\13\\10.4\\14\\18.5\\15\\13\\17\\21\\17\\%
15\\18\\19\\17\\15.7\\20\\25.5\\21\\17\\19\\21.3\\18\\16.9\\18\\19\\17\\15.3\\18\\21\\18\\%
16\\20\\24.2\\20\\18\\16\\14.2\\18\\22.5\\19\\17\\19\\19.7\\17\\15\\18\\19\\16\\13.5\\16\\%
19.3\\15\\12\\14\\18\\14\\11.3\\13\\16\\20\\22.5\\18\\15.3\\20\\25.2\\23\\22\\24\\25.2\\23\\%
20\\18.5\\21.5\\18\\14.5\\18\\22\\20\\18\\20\\23.7\\20\\17.4\\19\\20\\17\\13.2\\16\\18.9\\16\\%
14.8\\17\\18.5\\16\\14\\16\\18.5\\16\\15\\8\\1.6\\12\\23.7\\16\\12.6\\15\\18\\15\\13\\16\\%
18.7\\15\\10.7\\14\\17.5\\15\\14.5\\19\\23.7\\19\\16\\18\\19.5\\12\\5.2\\12\\20\\17\\15.5\\19\\%
22.9\\19\\17\\19\\20.5\\16\\12.6\\16\\18.5\\17\\17\\19\\20.5\\18\\16.5\\20\\23.4\\20\\17\\19\\%
22\\19\\18\\16\\15.1\\20\\24.4\\20\\17.5\\20\\22\\23\\24.1\\22\\19\\17\\15.9\\19\\22\\18\\%
16.5\\20\\24.1\\19\\15.7\\15\\13.5\\14\\12.1\\15\\17\\14\\13\\17\\21.2\\16\\12\\9\\6.9\\12\\%
17.7\\14\\11.5\\14\\17\\15\\14.5\\13\\11.6\\16\\20\\17\\15\\12\\10.1\\15\\20\\22\\22.9\\18\\%
15.5\\18\\21\\18\\15.3\\18\\21.5\\22\\23.2\\19\\16\\18\\20\\18\\16\\17.5\\18.8\\17.5\\22\\19\\%
22.1\\16\\11\\15\\19.3\\17\\16\\13\\11.3\\14\\17\\14\\13\\11\\8.5\\12\\16.2\\13\\11.5\\14\\%
17\\19\\20.1\\18\\17.5\\19\\20.5\\18\\17\\8\\0.5\\6\\10.4\\15\\20\\15\\12.5\\14\\15\\17\\%
18.8\\15\\13\\11\\8.7\\4\\0.3\\6\\12\\17\\21.9\\16\\10.6\\13\\16\\13\\10.6\\13\\15.5\\13\\%
10.1\\14\\17.9\\15\\13\\16\\19\\17\\15\\14\\13\\12\\12.2\\14\\16.5\\14\\12\\11\\10.5\\14\\%
18\\19\\20.2\\16\\12.6\\16\\19.5\\20\\20.4\\16\\12.5\\17\\21.9\\19\\17.4\\19\\20\\22\\24.8\\24\\%
23.4\\20\\18\\17\\15.4\\18\\20\\11\\2\\11\\20.7\\17\\14\\12\\11\\14\\17.4\\14\\12\\14\\%
17\\12\\6.9\\10\\13\\13\\13.4\\10\\7.4\\10\\12\\15\\17\\19\\21.3\\18\\15\\17\\18.5\\15\\%
10.9\\13\\15.5\\14\\12\\11\\10.2\\13\\16\\17\\18.7\\15\\12\\11\\10\\13\\15\\16\\17\\19\\%
21.1\\17\\12.5\\10\\8.9\\8\\7.5\\9\\11\\10\\9\\10\\10.5\\8\\6.2\\8\\10\\7\\3.6\\8\\%
11.7\\9\\7\\12\\16\\18\\19\\21\\22.2\\19\\17.1\\19\\21.1\\17\\13.6\\15\\16.8\\15\\13\\12\\%
11.9\\14\\15.6\\12\\9\\7\\4.9\\9\\13\\10\\7.7\\10\\12.2\\14\\15\\13\\11.5\\16\\20.9\\18\\%
20.7\\18\\16\\19\\21.6\\19\\16\\19\\21.3\\16\\10.7\\15\\18.5\\19\\18.7\\13\\8.1\\10\\8.1\\10\\%
12.5\\11\\9\\7\\5.9\\10\\14\\12\\10.5\\13\\15\\17\\19.7\\17\\14\\16\\18\\20\\22\\17\\%
12\\8\\5.4\\10\\14\\16\\17\\18\\17.8\\15\\13.4\\15\\16\\14\\11.2\\9\\7.2\\10\\13\\14\\%
14\\18\\21.6\\16\\11\\14\\16\\11\\6.5\\11\\15.2\\14\\13\\12\\11.6\\15\\18\\15\\13\\15\\%
18.5\\15\\13\\14.5\\12\\14.5\\17\\15\\13\\17\\20.9\\20\\20\\17\\15\\12\\8.8\\12\\16\\18\\%
19\\20\\22\\18\\14\\11\\9.1\\5\\2.3\\5\\7.5\\14\\20.5\\17\\14.5\\17\\19\\15\\11.7\\15\\%
18\\19\\19.5\\16\\12.5\\9\\5.7\\11\\17.3\\9\\0.5\\5\\10\\8\\6.5\\10\\13\\10\\8.7\\8\\%
};
\end{axis}

% ---------- labels, at page pixel positions
\begin{scope}[x=0.25pt, y=-0.25pt]
\node[font=\narrow\fontsize{15.5}{16}\selectfont] at (1140,1089) {Distance [metres]};
\node[font=\wide\fontsize{12}{13}\selectfont, rotate=90] at (80,511) {Pixel Intensity [Arbitrary Units]};
\node[font=\bfseries\narrow\fontsize{15}{16}\selectfont] at (237,91) {(a)};
\node[font=\fontsize{11.7}{12}\selectfont] at (2767,1078) {Absorption [uncalibrated]};
\node[font=\fontsize{12.4}{13}\selectfont, rotate=90] at (2125,519) {H\textsubscript{2}O Slant Column Density [kg m\textsuperscript{-2}]};
\node[font=\bfseries\fontsize{15}{16}\selectfont] at (2310,89) {(b)};
\node[font=\bfseries\fontsize{13}{14}\selectfont] at (2825,496) {R\textsuperscript{2}= 0.86};
\node[font=\fontsize{11.6}{12}\selectfont] at (784,2189) {Distance [metres]};
\node[font=\fontsize{11.8}{12}\selectfont, rotate=90] at (36,1678) {H\textsubscript{2}O Slant Column Density [kg m\textsuperscript{-2}]};
\node[font=\bfseries\fontsize{15}{16}\selectfont] at (307,1204) {(c)};
\node[font=\narrow\fontsize{15.5}{16}\selectfont] at (2428,2199) {Time [seconds]};
\node[font=\wide\fontsize{12}{13}\selectfont, rotate=90] at (1405,1636) {H\textsubscript{2}O Flux [kg s\textsuperscript{-1}]};
\node[font=\bfseries\narrow\fontsize{15}{16}\selectfont] at (1540,1196) {(d)};
\end{scope}
\end{tikzpicture}
\end{document}
